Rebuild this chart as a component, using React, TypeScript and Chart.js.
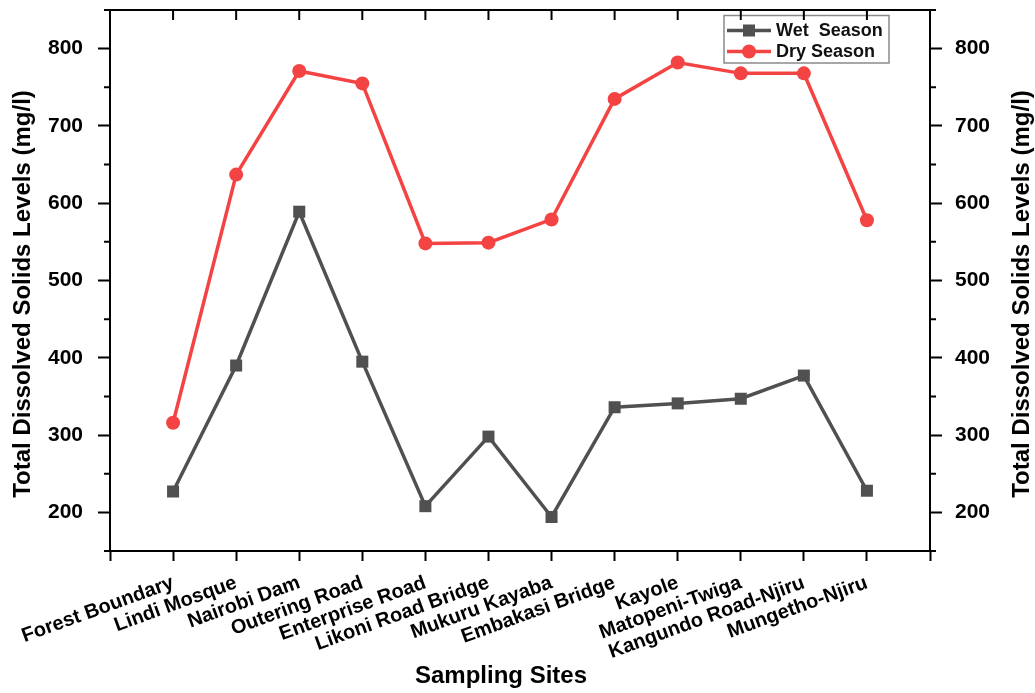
import React, { useEffect, useRef } from 'react';
import { Chart, registerables } from 'chart.js';

Chart.register(...registerables);

// ---------- data ----------
const sites = [
  'Forest Boundary',
  'Lindi Mosque',
  'Nairobi Dam',
  'Outering Road',
  'Enterprise Road',
  'Likoni Road Bridge',
  'Mukuru Kayaba',
  'Embakasi Bridge',
  'Kayole',
  'Matopeni-Twiga',
  'Kangundo Road-Njiru',
  'Mungetho-Njiru',
];
const wetSeason = [227, 390, 589, 395, 208, 298, 194, 336, 341, 347, 377, 228];
const drySeason = [316, 637, 771, 755, 548, 549, 579, 735, 782, 768, 768, 578];
const wetLabel = 'Wet  Season';
const dryLabel = 'Dry Season';
const yTickValues = [200, 300, 400, 500, 600, 700, 800];
const yMinorValues = [150, 250, 350, 450, 550, 650, 750, 850];
const yMin = 150;
const yMax = 850;
const yTitle = 'Total Dissolved Solids Levels (mg/l)';
const xTitle = 'Sampling Sites';

// ---------- styles ----------
const FONT = '"Liberation Sans", Arial, Helvetica, sans-serif';
const WET = '#505050';
const DRY = '#f44343';

const decorPlugin = {
  id: 'decor',
  afterDraw(chart: any) {
    const ctx = chart.ctx as CanvasRenderingContext2D;
    const { left, right, top, bottom } = chart.chartArea;
    const ys = chart.scales.y;
    const xs = chart.scales.x;
    ctx.save();

    // legend
    const bx = 724, by = 15.5, bw = 165, bh = 47.5;
    ctx.lineWidth = 1.5;
    ctx.strokeStyle = '#8a8a8a';
    ctx.strokeRect(bx, by, bw, bh);
    const rows = [30.5, 51.5];
    chart.data.datasets.forEach((ds: any, i: number) => {
      const ry = rows[i];
      ctx.strokeStyle = ds.borderColor;
      ctx.lineWidth = 3.5;
      ctx.beginPath();
      ctx.moveTo(727, ry);
      ctx.lineTo(771, ry);
      ctx.stroke();
      ctx.fillStyle = ds.borderColor;
      if (ds.pointStyle === 'rect') {
        ctx.fillRect(749 - 6, ry - 6, 12, 12);
      } else {
        ctx.beginPath();
        ctx.arc(749, ry, 7, 0, Math.PI * 2);
        ctx.fill();
      }
      ctx.fillStyle = '#111';
      ctx.font = `bold 18px ${FONT}`;
      ctx.textAlign = 'left';
      ctx.textBaseline = 'middle';
      ctx.fillText(ds.label, 776, ry + 1);
    });

    // frame and extra ticks
    ctx.strokeStyle = '#000';
    ctx.lineWidth = 2;
    ctx.strokeRect(left, top, right - left, bottom - top);
    ctx.beginPath();
    yMinorValues.forEach((v) => {
      const y = ys.getPixelForValue(v);
      ctx.moveTo(left - 6, y);
      ctx.lineTo(left, y);
      ctx.moveTo(right, y);
      ctx.lineTo(right + 6, y);
    });
    sites.forEach((_, i) => {
      const x = xs.getPixelForValue(i + 1);
      ctx.moveTo(x, top);
      ctx.lineTo(x, top + 10);
    });
    ctx.stroke();

    // axis titles
    ctx.fillStyle = '#000';
    ctx.font = `bold 24px ${FONT}`;
    ctx.textAlign = 'center';
    ctx.textBaseline = 'middle';
    ctx.fillText(xTitle, 501, 676);
    [23, 1022].forEach((cx) => {
      ctx.save();
      ctx.translate(cx, 294);
      ctx.rotate(-Math.PI / 2);
      ctx.fillText(yTitle, 0, 0);
      ctx.restore();
    });

    ctx.restore();
  },
};

const noPad = (s: any) => {
  s.paddingTop = 0;
  s.paddingBottom = 0;
  s.paddingLeft = 0;
  s.paddingRight = 0;
};

export default function App() {
  const ref = useRef<HTMLCanvasElement | null>(null);

  useEffect(() => {
    if (!ref.current) return;
    const tickFont = { family: FONT, size: 21, weight: 'bold' as const };
    const grid = {
      drawOnChartArea: false,
      drawTicks: true,
      tickLength: 12,
      tickWidth: 2,
      tickColor: '#000',
    };
    const chart = new Chart(ref.current, {
      type: 'line',
      data: {
        datasets: [
          {
            label: wetLabel,
            data: wetSeason.map((v, i) => ({ x: i + 1, y: v })),
            borderColor: WET,
            backgroundColor: WET,
            borderWidth: 3.5,
            pointStyle: 'rect',
            pointRadius: 8.5,
            pointBorderWidth: 0,
            pointBackgroundColor: WET,
            tension: 0,
          },
          {
            label: dryLabel,
            data: drySeason.map((v, i) => ({ x: i + 1, y: v })),
            borderColor: DRY,
            backgroundColor: DRY,
            borderWidth: 3.5,
            pointStyle: 'circle',
            pointRadius: 7,
            pointBorderWidth: 0,
            pointBackgroundColor: DRY,
            tension: 0,
          },
        ],
      },
      options: {
        animation: false,
        responsive: true,
        maintainAspectRatio: false,
        layout: { padding: { top: 10, left: 0, right: 0, bottom: 0 } },
        plugins: {
          legend: { display: false },
          tooltip: { enabled: false },
        },
        scales: {
          x: {
            type: 'linear',
            position: 'bottom',
            min: 0,
            max: sites.length + 1,
            afterBuildTicks: (s: any) => {
              const t = [{ value: 0 }];
              sites.forEach((_, i) => t.push({ value: i + 1 }));
              t.push({ value: sites.length + 1 });
              s.ticks = t;
            },
            afterFit: (s: any) => {
              s.height = 142;
              noPad(s);
            },
            ticks: {
              autoSkip: false,
              minRotation: 20,
              maxRotation: 20,
              color: '#000',
              font: { family: FONT, size: 20, weight: 'bold' },
              padding: 10,
              callback: (v: any) => sites[Number(v) - 1] ?? '',
            },
            grid: { ...grid, tickLength: 10 },
            border: { display: false },
          },
          y: {
            type: 'linear',
            position: 'left',
            min: yMin,
            max: yMax,
            afterBuildTicks: (s: any) => {
              s.ticks = yTickValues.map((v) => ({ value: v }));
            },
            afterFit: (s: any) => {
              s.width = 110;
              noPad(s);
            },
            ticks: { color: '#000', font: tickFont, padding: 15 },
            grid,
            border: { display: false },
          },
          y2: {
            type: 'linear',
            position: 'right',
            min: yMin,
            max: yMax,
            afterBuildTicks: (s: any) => {
              s.ticks = yTickValues.map((v) => ({ value: v }));
            },
            afterFit: (s: any) => {
              s.width = 105;
              noPad(s);
            },
            ticks: { color: '#000', font: tickFont, padding: 13 },
            grid,
            border: { display: false },
          },
        },
      },
      plugins: [decorPlugin],
    });
    return () => chart.destroy();
  }, []);

  return (
    <div style={{ position: 'absolute', left: 0, top: 0, width: 1035, height: 693, background: '#fff' }}>
      <canvas ref={ref} />
    </div>
  );
}
